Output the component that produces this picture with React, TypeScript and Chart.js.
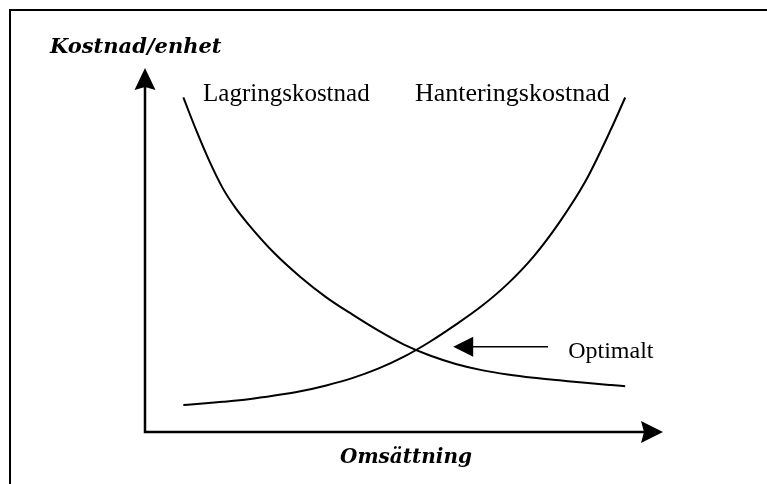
import React, { useEffect, useRef } from "react";
import { Chart, registerables } from "chart.js";

Chart.register(...registerables);

// Omsättning (x) and Kostnad/enhet (y), abstract units 0..10
const lagringX = [0.74, 1.0, 1.25, 1.5, 1.75, 2.0, 2.5, 3.0, 3.5, 4.0, 4.5, 5.0, 5.5, 6.0, 6.5, 7.0, 7.5, 8.0, 8.5, 9.0, 9.27];
const lagringY = [9.19, 8.25, 7.42, 6.7, 6.15, 5.7, 4.91, 4.26, 3.7, 3.23, 2.79, 2.4, 2.1, 1.87, 1.7, 1.58, 1.49, 1.42, 1.35, 1.29, 1.26];
const hanteringX = [0.74, 1.0, 1.5, 2.0, 2.5, 3.0, 3.5, 4.0, 4.5, 5.0, 5.5, 6.0, 6.5, 7.0, 7.5, 8.0, 8.5, 9.0, 9.27];
const hanteringY = [0.74, 0.77, 0.83, 0.9, 1.0, 1.12, 1.28, 1.48, 1.74, 2.07, 2.48, 2.95, 3.46, 4.07, 4.82, 5.76, 6.88, 8.33, 9.19];

const seriesNames = ["Lagringskostnad", "Hanteringskostnad"];
const yTitle = "Kostnad/enhet";
const xTitle = "Omsättning";
const optimumLabel = "Optimalt";

const toPoints = (xs: number[], ys: number[]) => xs.map((x, i) => ({ x, y: ys[i] }));

const drawingPlugin = {
  id: "drawing",
  beforeDraw(chart: any) {
    const ctx = chart.ctx as CanvasRenderingContext2D;
    ctx.save();
    ctx.fillStyle = "#fff";
    ctx.fillRect(0, 0, chart.width, chart.height);
    // frame
    ctx.strokeStyle = "#000";
    ctx.lineWidth = 2;
    ctx.beginPath();
    ctx.moveTo(10, chart.height);
    ctx.lineTo(10, 10);
    ctx.lineTo(chart.width, 10);
    ctx.stroke();
    ctx.restore();
  },
  afterDatasetsDraw(chart: any) {
    const ctx = chart.ctx as CanvasRenderingContext2D;
    const { left, right, top, bottom } = chart.chartArea;
    const xs = chart.scales.x;
    const ys = chart.scales.y;
    ctx.save();
    ctx.strokeStyle = "#000";
    ctx.fillStyle = "#000";
    // axes
    ctx.lineWidth = 2.5;
    ctx.beginPath();
    ctx.moveTo(left, top + 18);
    ctx.lineTo(left, bottom);
    ctx.lineTo(right - 18, bottom);
    ctx.stroke();
    // y arrowhead
    ctx.beginPath();
    ctx.moveTo(left, top);
    ctx.lineTo(left + 10.5, top + 22);
    ctx.lineTo(left, top + 19);
    ctx.lineTo(left - 10.5, top + 22);
    ctx.closePath();
    ctx.fill();
    // x arrowhead
    ctx.beginPath();
    ctx.moveTo(right, bottom);
    ctx.lineTo(right - 22, bottom - 11);
    ctx.lineTo(right - 19, bottom);
    ctx.lineTo(right - 22, bottom + 11);
    ctx.closePath();
    ctx.fill();

    // optimum arrow
    const ay = ys.getPixelForValue(2.34);
    const ax0 = xs.getPixelForValue(7.78);
    const ax1 = xs.getPixelForValue(5.95);
    ctx.lineWidth = 1.5;
    ctx.beginPath();
    ctx.moveTo(ax0, ay);
    ctx.lineTo(ax1 + 18, ay);
    ctx.stroke();
    ctx.beginPath();
    ctx.moveTo(ax1, ay);
    ctx.lineTo(ax1 + 20, ay - 10);
    ctx.lineTo(ax1 + 20, ay + 10);
    ctx.closePath();
    ctx.fill();

    // labels
    ctx.textBaseline = "alphabetic";
    ctx.textAlign = "left";
    ctx.font = '25px "Liberation Serif"';
    ctx.fillText(seriesNames[0], xs.getPixelForValue(1.12), ys.getPixelForValue(9.1));
    ctx.font = '26px "Liberation Serif"';
    ctx.fillText(seriesNames[1], xs.getPixelForValue(5.21), ys.getPixelForValue(9.1));
    ctx.font = '24px "Liberation Serif"';
    ctx.fillText(optimumLabel, xs.getPixelForValue(8.17), ys.getPixelForValue(2.03));

    ctx.font = 'italic bold 21px "DejaVu Serif"';
    ctx.fillText(yTitle, left - 95, top - 15);
    ctx.font = 'italic bold 20px "DejaVu Serif"';
    ctx.textAlign = "center";
    ctx.fillText(xTitle, (left + right) / 2 + 2, bottom + 31);
    ctx.restore();
  },
};

export default function App() {
  const ref = useRef<HTMLCanvasElement | null>(null);
  useEffect(() => {
    if (!ref.current) return;
    const chart = new Chart(ref.current, {
      type: "line",
      data: {
        datasets: [
          {
            label: seriesNames[0],
            data: toPoints(lagringX, lagringY),
            borderColor: "#000",
            borderWidth: 2,
            pointRadius: 0,
            cubicInterpolationMode: "monotone",
            fill: false,
          },
          {
            label: seriesNames[1],
            data: toPoints(hanteringX, hanteringY),
            borderColor: "#000",
            borderWidth: 2,
            pointRadius: 0,
            cubicInterpolationMode: "monotone",
            fill: false,
          },
        ],
      },
      options: {
        animation: false,
        responsive: false,
        events: [],
        layout: { padding: { left: 145, right: 104, top: 68, bottom: 52 } },
        scales: {
          x: { type: "linear", min: 0, max: 10, display: false },
          y: { type: "linear", min: 0, max: 10, display: false },
        },
        plugins: { legend: { display: false }, tooltip: { enabled: false } },
      },
      plugins: [drawingPlugin],
    });
    return () => chart.destroy();
  }, []);
  return (
    <div style={{ position: "fixed", left: 0, top: 0, width: 767, height: 484, background: "#fff" }}>
      <canvas ref={ref} width={767} height={484} style={{ display: "block" }} />
    </div>
  );
}
